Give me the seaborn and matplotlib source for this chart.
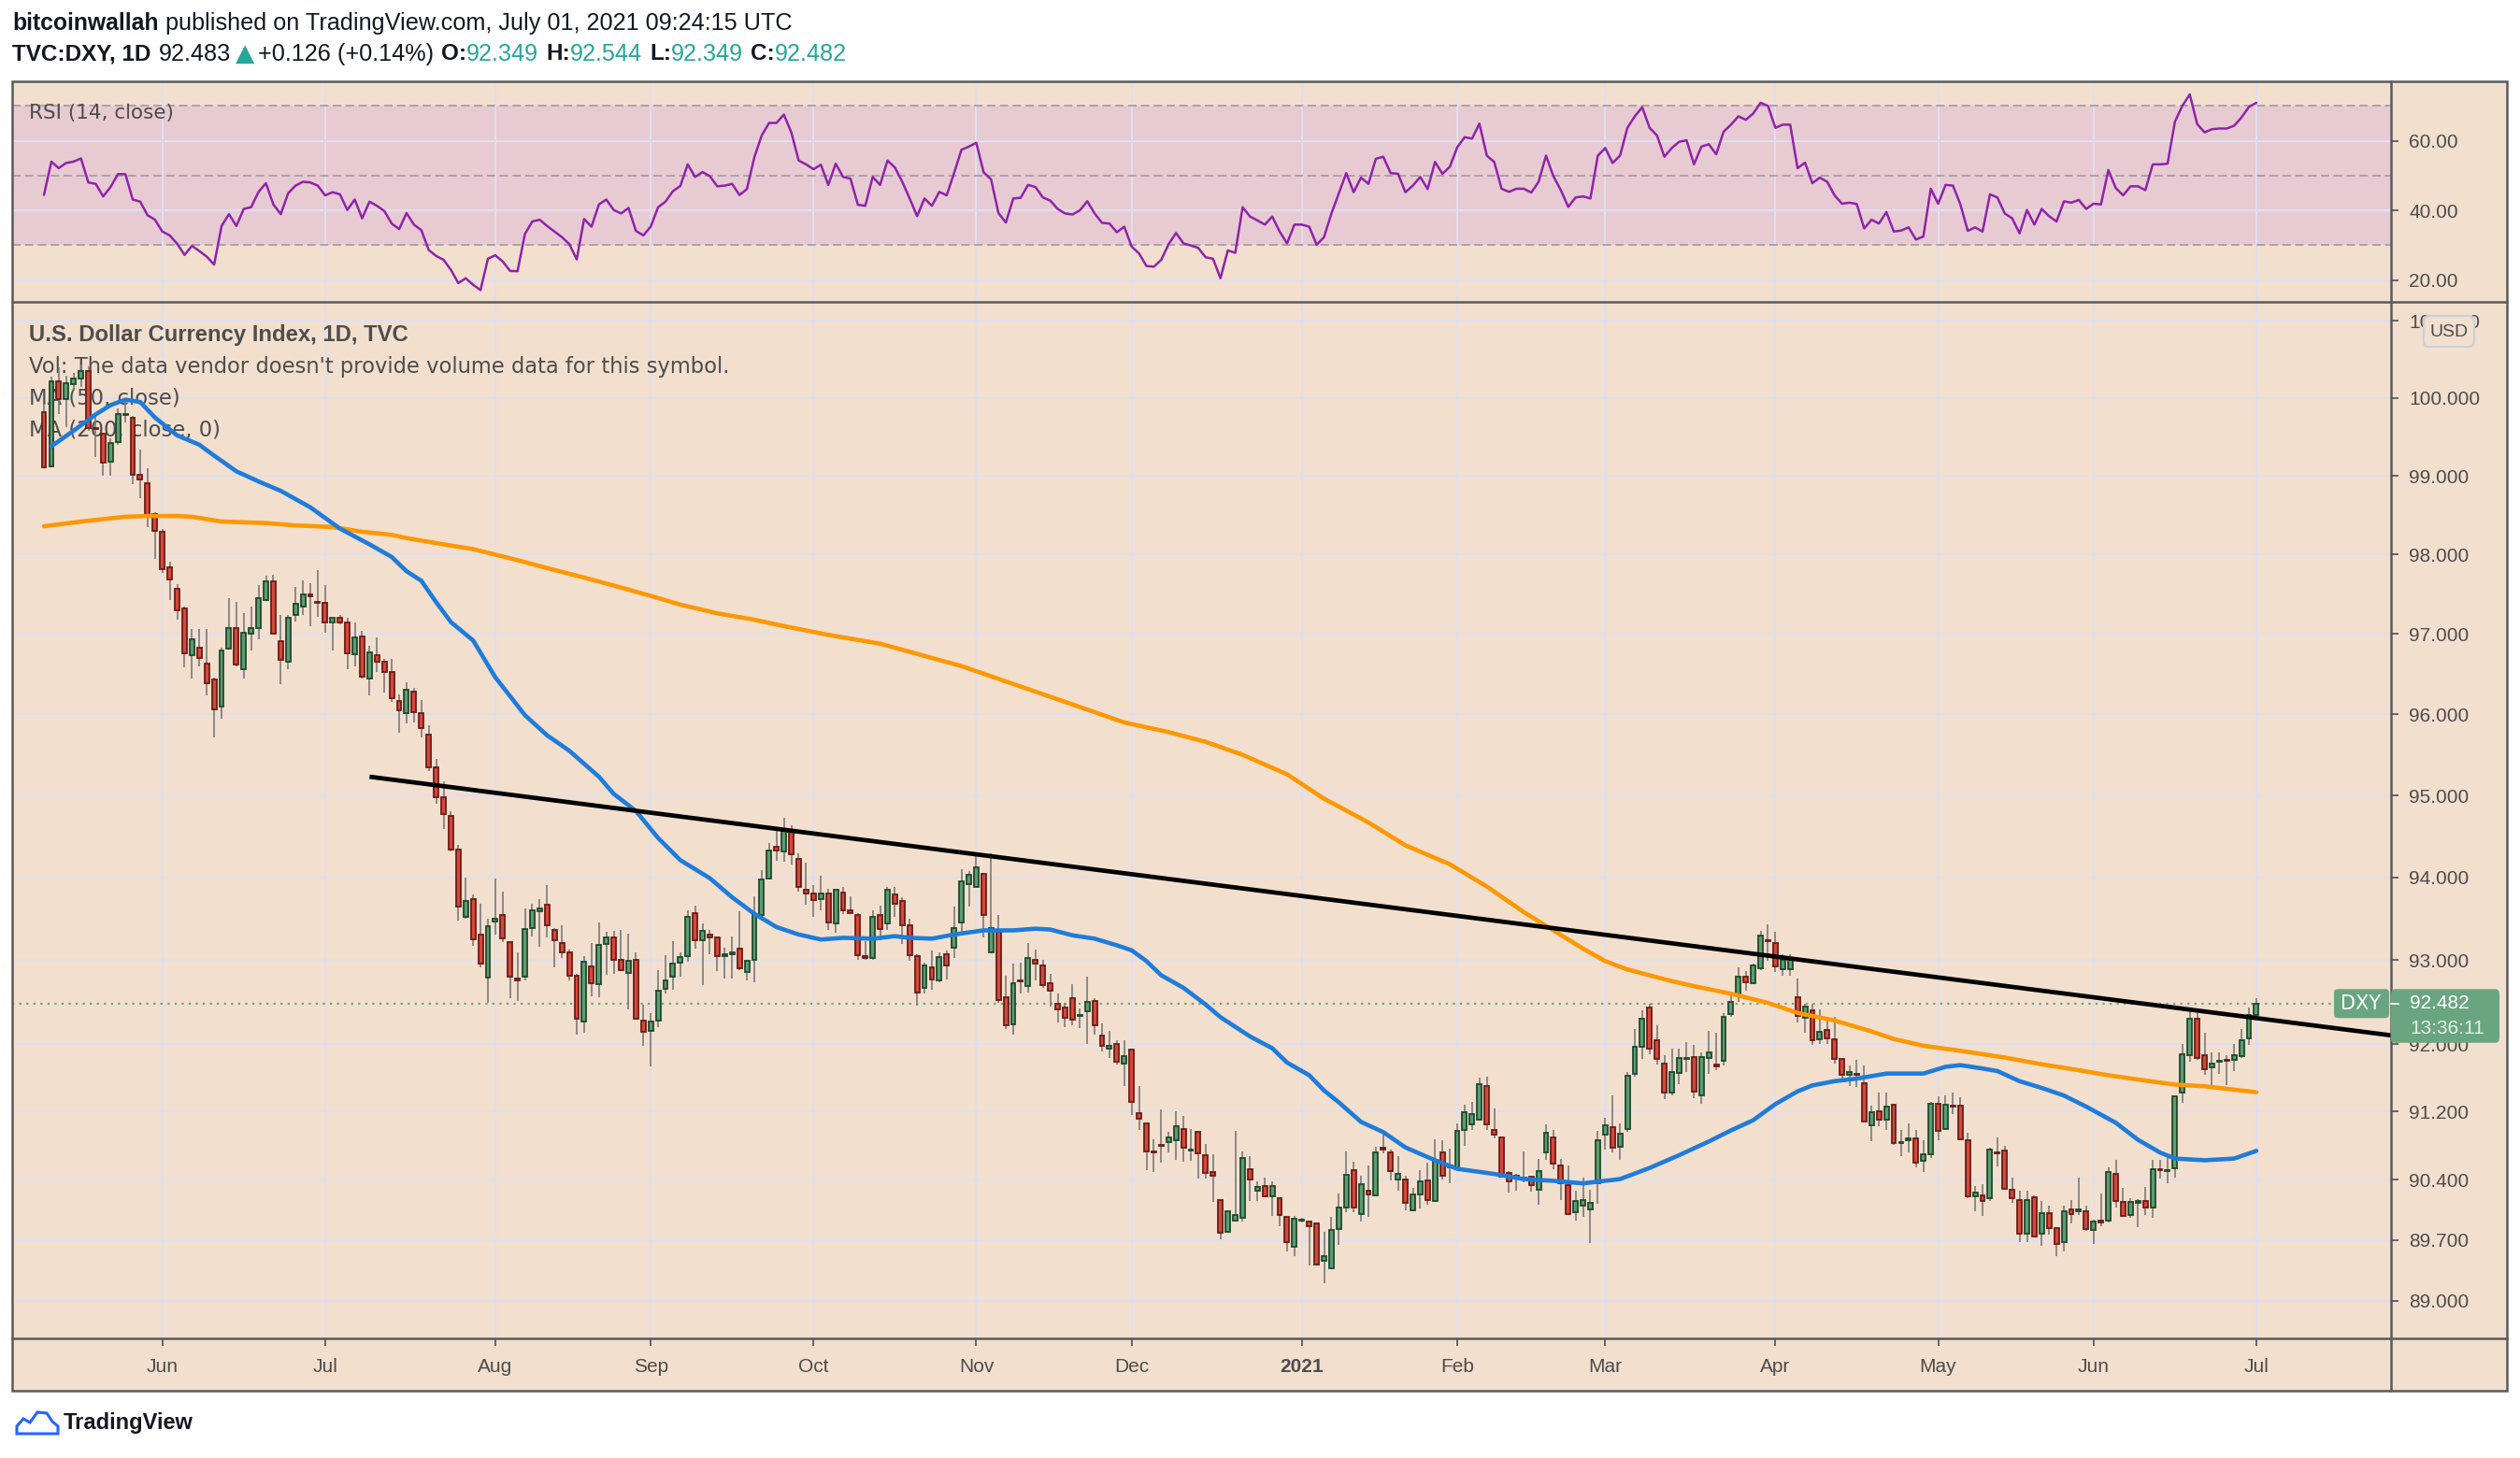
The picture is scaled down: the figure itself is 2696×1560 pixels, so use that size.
import matplotlib
matplotlib.use("Agg")
import matplotlib.pyplot as plt
import numpy as np
import pandas as pd
import seaborn as sns
from matplotlib.patches import Rectangle, FancyBboxPatch, PathPatch
from matplotlib.path import Path
from matplotlib.lines import Line2D
from matplotlib.ticker import NullLocator, NullFormatter
from matplotlib.transforms import IdentityTransform

# ---------------- data ----------------
# daily bars, TVC:DXY, 2020-05-08 .. 2021-07-01 (business days)
dates = pd.bdate_range("2020-05-08", "2021-07-01")

open_ = [
    99.82, 99.12, 100.22, 99.99, 100.18, 100.25, 100.35, 99.61, 99.54, 99.18,
    99.43, 99.78, 99.75, 99.02, 98.91, 98.52, 98.29, 97.84, 97.57, 97.32,
    96.74, 96.83, 96.63, 96.43, 96.10, 96.82, 97.08, 96.56, 97.00, 97.08,
    97.43, 97.66, 96.91, 96.66, 97.24, 97.35, 97.50, 97.40, 97.39, 97.15,
    97.21, 97.14, 96.75, 96.97, 96.45, 96.74, 96.65, 96.53, 96.17, 96.02,
    96.28, 96.01, 95.75, 95.35, 94.98, 94.75, 94.34, 93.52, 93.74, 93.31,
    92.79, 93.47, 93.55, 93.22, 92.78, 92.80, 93.39, 93.59, 93.67, 93.36,
    93.21, 93.09, 92.81, 92.27, 92.93, 92.71, 93.20, 93.27, 93.01, 92.85,
    93.01, 92.28, 92.16, 92.28, 92.66, 92.80, 92.97, 93.05, 93.57, 93.24,
    93.31, 93.28, 93.05, 93.07, 93.14, 92.86, 93.01, 93.55, 93.99, 94.37,
    94.32, 94.58, 94.23, 93.85, 93.80, 93.74, 93.81, 93.44, 93.82, 93.60,
    93.55, 93.05, 93.03, 93.55, 93.44, 93.79, 93.71, 93.42, 93.05, 92.67,
    92.92, 92.76, 93.07, 93.15, 93.46, 93.92, 93.89, 94.04, 93.09, 93.34,
    92.56, 92.23, 92.76, 92.69, 93.00, 92.94, 92.72, 92.48, 92.43, 92.55,
    92.33, 92.39, 92.51, 92.10, 91.94, 92.00, 91.77, 91.93, 91.18, 91.06,
    90.73, 90.81, 90.84, 90.86, 91.00, 90.74, 90.96, 90.69, 90.49, 90.17,
    89.80, 89.93, 89.96, 90.52, 90.28, 90.33, 90.21, 90.19, 89.97, 89.62,
    89.93, 89.92, 89.89, 89.46, 89.37, 89.83, 90.08, 90.51, 90.00, 90.27,
    90.22, 90.77, 90.72, 90.41, 90.41, 90.05, 90.23, 90.39, 90.16, 90.72,
    90.55, 90.53, 90.99, 91.05, 91.11, 91.50, 90.99, 90.90, 90.48, 90.45,
    90.41, 90.44, 90.29, 90.72, 90.90, 90.57, 90.34, 90.02, 90.10, 90.06,
    90.36, 90.93, 91.02, 90.79, 91.00, 91.65, 91.97, 92.44, 92.04, 91.77,
    91.43, 91.66, 91.82, 91.85, 91.39, 91.83, 91.75, 91.80, 92.36, 92.59,
    92.80, 92.72, 92.90, 93.24, 93.21, 92.89, 92.89, 92.56, 92.31, 92.40,
    92.06, 92.17, 92.06, 91.82, 91.63, 91.65, 91.54, 91.04, 91.20, 91.11,
    91.28, 90.83, 90.87, 90.89, 90.62, 90.70, 91.29, 91.00, 91.27, 91.27,
    90.86, 90.21, 90.22, 90.19, 90.72, 90.74, 90.29, 90.17, 89.77, 90.20,
    89.77, 90.01, 89.84, 89.68, 90.06, 90.04, 90.04, 89.82, 89.92, 89.93,
    90.47, 90.14, 89.99, 90.13, 90.15, 90.08, 90.52, 90.50, 90.54, 91.42,
    91.87, 92.30, 91.87, 91.72, 91.79, 91.81, 91.81, 91.86, 92.07, 92.349,
]
high = [
    99.93, 100.28, 100.40, 100.29, 100.33, 100.43, 100.41, 99.81, 99.56, 99.48,
    99.87, 99.99, 99.77, 99.34, 99.10, 98.54, 98.32, 97.91, 97.63, 97.34,
    97.06, 97.06, 97.06, 96.46, 96.83, 97.45, 97.40, 97.26, 97.34, 97.61,
    97.73, 97.74, 97.24, 97.24, 97.59, 97.67, 97.64, 97.81, 97.62, 97.20,
    97.24, 97.20, 97.14, 97.04, 96.85, 96.96, 96.69, 96.69, 96.25, 96.40,
    96.33, 96.18, 95.86, 95.45, 95.17, 94.81, 94.40, 94.00, 93.79, 93.68,
    93.50, 93.99, 93.83, 93.23, 93.09, 93.63, 93.68, 93.74, 93.91, 93.39,
    93.42, 93.13, 92.84, 93.05, 93.21, 93.46, 93.34, 93.35, 93.37, 93.32,
    93.09, 92.47, 92.37, 92.88, 93.06, 93.23, 93.09, 93.60, 93.66, 93.44,
    93.37, 93.29, 93.15, 93.29, 93.59, 93.01, 93.77, 94.09, 94.42, 94.59,
    94.73, 94.63, 94.29, 94.18, 93.91, 94.02, 93.86, 93.85, 93.89, 93.77,
    93.57, 93.23, 93.60, 93.66, 93.89, 93.88, 93.76, 93.50, 93.07, 92.97,
    93.12, 93.10, 93.12, 93.65, 94.10, 94.08, 94.29, 94.05, 94.29, 93.55,
    92.82, 92.96, 92.97, 93.21, 93.13, 93.01, 92.84, 92.60, 92.49, 92.71,
    92.42, 92.80, 92.55, 92.24, 92.16, 92.04, 92.04, 91.93, 91.50, 91.06,
    90.88, 91.23, 90.96, 91.20, 91.15, 91.00, 90.96, 90.82, 90.70, 90.17,
    90.04, 90.97, 90.73, 90.68, 90.38, 90.43, 90.38, 90.20, 89.97, 89.98,
    89.96, 89.93, 89.90, 89.80, 89.97, 90.24, 90.73, 90.61, 90.45, 90.57,
    90.79, 90.93, 90.75, 90.68, 90.45, 90.31, 90.51, 90.60, 90.88, 90.86,
    90.77, 91.06, 91.28, 91.31, 91.60, 91.61, 91.24, 90.91, 90.50, 90.47,
    90.73, 90.45, 90.65, 91.05, 90.98, 90.65, 90.57, 90.27, 90.43, 90.29,
    90.97, 91.13, 91.39, 91.06, 91.67, 92.18, 92.40, 92.48, 92.22, 91.87,
    91.95, 91.95, 92.02, 91.99, 91.90, 92.16, 92.13, 92.37, 92.58, 92.92,
    92.87, 92.96, 93.35, 93.43, 93.34, 93.07, 93.07, 92.78, 92.48, 92.48,
    92.41, 92.32, 92.32, 91.82, 91.75, 91.81, 91.75, 91.27, 91.42, 91.42,
    91.29, 90.99, 91.06, 90.99, 90.87, 91.32, 91.38, 91.39, 91.43, 91.37,
    90.95, 90.33, 90.35, 90.78, 90.90, 90.80, 90.43, 90.28, 90.28, 90.22,
    90.15, 90.10, 89.85, 90.10, 90.17, 90.43, 90.10, 89.94, 90.24, 90.55,
    90.64, 90.31, 90.19, 90.18, 90.32, 90.63, 90.63, 90.68, 91.39, 92.00,
    92.39, 92.37, 92.13, 91.90, 91.90, 91.87, 92.00, 92.18, 92.43, 92.544,
]
low = [
    99.10, 99.11, 99.79, 99.63, 100.10, 100.15, 99.58, 99.24, 99.00, 99.00,
    99.40, 99.69, 98.90, 98.72, 98.35, 97.95, 97.77, 97.43, 97.18, 96.58,
    96.44, 96.60, 96.23, 95.72, 95.95, 96.81, 96.60, 96.44, 96.79, 96.94,
    97.42, 97.00, 96.38, 96.56, 97.16, 97.24, 97.10, 97.22, 97.02, 96.80,
    97.12, 96.56, 96.60, 96.44, 96.23, 96.53, 96.27, 96.15, 95.77, 95.89,
    95.90, 95.72, 95.30, 94.90, 94.59, 94.32, 93.48, 93.50, 93.17, 92.92,
    92.49, 93.31, 93.22, 92.55, 92.51, 92.76, 93.29, 93.16, 93.27, 92.92,
    93.03, 92.76, 92.11, 92.13, 92.57, 92.56, 92.83, 92.84, 92.87, 92.41,
    92.29, 91.98, 91.73, 92.20, 92.60, 92.65, 92.80, 92.98, 93.14, 92.70,
    93.07, 92.87, 92.78, 92.78, 92.88, 92.76, 92.74, 93.48, 93.97, 94.20,
    94.19, 94.16, 93.83, 93.67, 93.52, 93.60, 93.37, 93.33, 93.56, 93.57,
    93.00, 93.00, 93.01, 93.24, 93.37, 93.52, 93.20, 92.99, 92.46, 92.60,
    92.65, 92.74, 92.77, 93.03, 93.31, 93.65, 93.89, 93.27, 93.09, 92.49,
    92.18, 92.11, 92.60, 92.61, 92.76, 92.67, 92.45, 92.26, 92.20, 92.22,
    92.19, 92.00, 92.11, 91.91, 91.84, 91.76, 91.50, 91.16, 90.99, 90.51,
    90.49, 90.60, 90.72, 90.63, 90.61, 90.62, 90.42, 90.42, 90.14, 89.71,
    89.80, 89.93, 89.92, 90.15, 90.15, 90.20, 89.98, 89.86, 89.57, 89.52,
    89.90, 89.41, 89.41, 89.20, 89.36, 89.65, 90.02, 90.02, 89.92, 89.97,
    90.22, 90.71, 90.39, 90.27, 90.05, 90.04, 90.07, 90.11, 90.16, 90.40,
    90.36, 90.51, 90.80, 90.99, 91.11, 90.99, 90.89, 90.43, 90.25, 90.27,
    90.37, 90.26, 90.11, 90.64, 90.53, 90.17, 89.99, 89.93, 89.97, 89.67,
    90.12, 90.76, 90.72, 90.63, 90.96, 91.61, 91.82, 91.88, 91.76, 91.35,
    91.39, 91.53, 91.67, 91.36, 91.29, 91.65, 91.69, 91.75, 92.32, 92.50,
    92.64, 92.71, 92.88, 92.99, 92.86, 92.82, 92.82, 92.26, 92.13, 91.99,
    92.00, 92.00, 91.77, 91.57, 91.50, 91.49, 91.08, 90.85, 91.03, 90.99,
    90.81, 90.68, 90.72, 90.55, 90.49, 90.66, 90.86, 90.98, 91.17, 90.88,
    90.19, 90.03, 89.98, 90.15, 90.56, 90.30, 90.13, 89.68, 89.68, 89.74,
    89.63, 89.76, 89.51, 89.57, 89.89, 89.99, 89.81, 89.66, 89.86, 89.90,
    90.08, 89.97, 89.96, 89.85, 89.99, 89.96, 90.42, 90.36, 90.43, 91.30,
    91.79, 91.81, 91.64, 91.50, 91.65, 91.51, 91.68, 91.84, 91.99, 92.349,
]
close = [
    99.11, 100.22, 99.99, 100.19, 100.25, 100.35, 99.61, 99.60, 99.17, 99.42,
    99.79, 99.79, 99.02, 98.95, 98.48, 98.30, 97.82, 97.69, 97.30, 96.76,
    96.93, 96.70, 96.39, 96.06, 96.80, 97.08, 96.62, 97.02, 97.07, 97.45,
    97.66, 97.00, 96.68, 97.20, 97.38, 97.50, 97.47, 97.39, 97.15, 97.20,
    97.15, 96.76, 96.96, 96.47, 96.77, 96.66, 96.53, 96.20, 96.05, 96.31,
    96.03, 95.83, 95.35, 94.98, 94.77, 94.34, 93.65, 93.72, 93.25, 92.96,
    93.41, 93.50, 93.26, 92.80, 92.76, 93.38, 93.60, 93.63, 93.42, 93.24,
    93.10, 92.82, 92.30, 92.98, 92.73, 93.19, 93.28, 93.01, 92.88, 92.99,
    92.30, 92.15, 92.27, 92.64, 92.76, 92.96, 93.04, 93.52, 93.24, 93.35,
    93.27, 93.05, 93.07, 93.09, 92.90, 92.99, 93.54, 93.97, 94.33, 94.33,
    94.58, 94.28, 93.88, 93.81, 93.73, 93.80, 93.45, 93.85, 93.60, 93.57,
    93.06, 93.03, 93.52, 93.38, 93.85, 93.68, 93.42, 93.06, 92.61, 92.94,
    92.77, 93.04, 92.94, 93.39, 93.95, 94.03, 94.12, 93.55, 93.39, 92.52,
    92.22, 92.72, 92.75, 93.03, 92.96, 92.70, 92.64, 92.41, 92.31, 92.29,
    92.35, 92.50, 92.22, 91.98, 91.98, 91.79, 91.86, 91.31, 91.12, 90.73,
    90.72, 90.80, 90.90, 91.03, 90.78, 90.75, 90.71, 90.48, 90.45, 89.79,
    90.04, 89.99, 90.66, 90.41, 90.32, 90.21, 90.33, 89.99, 89.68, 89.95,
    89.94, 89.86, 89.42, 89.51, 89.82, 90.08, 90.46, 90.08, 90.35, 90.23,
    90.72, 90.76, 90.50, 90.47, 90.13, 90.23, 90.38, 90.17, 90.64, 90.45,
    90.57, 90.97, 91.19, 91.17, 91.53, 91.05, 90.93, 90.44, 90.38, 90.42,
    90.42, 90.34, 90.50, 90.95, 90.59, 90.36, 90.00, 90.16, 90.17, 90.13,
    90.87, 91.04, 90.78, 90.94, 91.62, 91.97, 92.30, 91.95, 91.82, 91.42,
    91.67, 91.83, 91.84, 91.44, 91.85, 91.90, 91.74, 92.32, 92.50, 92.80,
    92.74, 92.94, 93.30, 93.23, 92.93, 93.00, 93.01, 92.33, 92.45, 92.05,
    92.15, 92.07, 91.82, 91.64, 91.67, 91.63, 91.08, 91.19, 91.11, 91.26,
    90.83, 90.84, 90.88, 90.60, 90.70, 91.29, 90.97, 91.28, 91.26, 90.88,
    90.21, 90.25, 90.16, 90.76, 90.71, 90.30, 90.19, 89.77, 90.17, 89.74,
    90.01, 89.84, 89.66, 90.03, 90.00, 90.05, 89.83, 89.92, 89.91, 90.49,
    90.15, 89.98, 90.14, 90.15, 90.08, 90.52, 90.51, 90.51, 91.38, 91.88,
    92.30, 91.83, 91.70, 91.77, 91.80, 91.80, 91.87, 92.05, 92.34, 92.482,
]
rsi = [
    44.4, 54.0, 52.1, 53.6, 54.0, 54.9, 48.0, 47.6, 44.0, 46.7,
    50.4, 50.4, 43.1, 42.5, 38.6, 37.3, 33.9, 32.8, 30.4, 27.2,
    29.8, 28.3, 26.7, 24.4, 35.5, 38.9, 35.5, 40.4, 40.9, 45.3,
    47.8, 41.7, 38.9, 44.9, 47.1, 48.2, 48.0, 47.1, 44.3, 45.2,
    44.6, 40.1, 43.1, 37.7, 42.5, 41.3, 39.8, 36.2, 34.6, 39.2,
    35.9, 34.3, 28.6, 26.9, 25.8, 22.9, 19.1, 20.5, 18.6, 17.1,
    26.1, 27.1, 25.3, 22.6, 22.5, 33.2, 36.8, 37.3, 35.5, 33.9,
    32.3, 30.3, 25.9, 37.5, 35.3, 41.7, 43.1, 40.1, 39.1, 40.7,
    34.1, 32.8, 35.3, 40.9, 42.5, 45.5, 47.0, 53.2, 49.6, 51.0,
    49.8, 46.9, 47.1, 47.6, 44.4, 46.1, 55.2, 61.5, 65.1, 65.1,
    67.5, 62.4, 54.3, 53.2, 51.8, 53.1, 47.3, 53.4, 49.6, 49.1,
    41.6, 41.3, 49.6, 47.3, 54.3, 52.3, 48.2, 43.4, 38.3, 43.4,
    41.3, 45.3, 44.3, 50.7, 57.4, 58.3, 59.4, 50.9, 48.9, 39.2,
    36.5, 43.4, 43.6, 47.3, 46.7, 43.7, 42.8, 40.4, 39.1, 38.8,
    40.0, 42.6, 39.1, 36.4, 36.2, 33.7, 35.3, 29.6, 27.6, 24.0,
    23.8, 25.8, 30.3, 33.5, 30.5, 29.9, 29.2, 26.5, 26.1, 20.5,
    28.5, 27.8, 40.9, 38.2, 37.1, 35.9, 38.2, 33.9, 30.5, 35.9,
    35.9, 35.3, 30.1, 32.3, 39.1, 44.9, 50.7, 45.2, 49.4, 47.6,
    54.8, 55.4, 50.7, 50.5, 45.2, 47.1, 49.6, 46.1, 53.9, 50.5,
    52.5, 58.1, 61.0, 60.6, 64.9, 55.7, 53.9, 46.2, 45.3, 46.2,
    46.2, 45.1, 48.2, 55.7, 49.8, 45.8, 41.0, 43.7, 44.0, 43.4,
    55.7, 57.9, 53.6, 55.7, 63.7, 67.0, 69.6, 63.7, 61.5, 55.4,
    57.9, 59.7, 60.1, 53.2, 58.3, 59.0, 56.1, 62.6, 64.6, 67.0,
    66.0, 67.8, 70.9, 70.0, 63.7, 64.6, 64.6, 52.1, 53.7, 47.8,
    49.4, 48.2, 44.3, 41.9, 42.2, 41.8, 34.8, 37.3, 36.2, 39.5,
    33.9, 34.2, 35.1, 31.6, 32.5, 46.2, 41.9, 47.3, 47.1, 41.7,
    34.1, 35.1, 33.9, 44.6, 43.7, 39.1, 37.7, 33.4, 40.1, 35.9,
    40.4, 38.3, 36.8, 42.6, 42.2, 43.0, 40.4, 41.9, 41.7, 51.6,
    46.4, 44.3, 46.9, 46.9, 45.8, 53.2, 53.2, 53.4, 65.5, 70.0,
    73.3, 64.8, 62.4, 63.3, 63.5, 63.5, 64.3, 66.7, 69.7, 70.9,
]

# moving averages, sampled: trading days counted from 2020-06-01
ma50_day = [-15, -12, -9, -7, -5, -3, -1, 2, 5, 7, 10, 13, 16, 20, 24, 28, 31, 33,
            35, 37, 39, 42, 45, 49, 52, 55, 59, 61, 64, 67, 70, 74, 77, 80, 83, 86,
            89, 92, 96, 99, 101, 104, 107, 111, 115, 118, 120, 123, 126, 129, 131,
            133, 135, 138, 141, 143, 147, 150, 152, 155, 157, 159, 162, 165, 168,
            172, 175, 180, 184, 188, 192, 195, 197, 201, 205, 209, 212, 215, 218,
            221, 223, 226, 229, 233, 238, 241, 243, 246, 248, 251, 254, 257, 260,
            264, 267, 270, 272, 276, 280, 283]
ma50 = [99.38, 99.58, 99.79, 99.91, 99.98, 99.95, 99.75, 99.52, 99.40, 99.26, 99.06,
        98.93, 98.81, 98.60, 98.33, 98.13, 97.97, 97.79, 97.67, 97.40, 97.15, 96.92,
        96.46, 95.99, 95.74, 95.55, 95.23, 95.02, 94.81, 94.48, 94.21, 93.99, 93.76,
        93.56, 93.40, 93.31, 93.25, 93.27, 93.26, 93.29, 93.27, 93.26, 93.31, 93.36,
        93.36, 93.38, 93.37, 93.30, 93.26, 93.18, 93.12, 92.99, 92.82, 92.67, 92.47,
        92.32, 92.09, 91.95, 91.78, 91.63, 91.45, 91.31, 91.08, 90.96, 90.78, 90.63,
        90.53, 90.47, 90.41, 90.39, 90.36, 90.39, 90.41, 90.54, 90.69, 90.85, 90.98,
        91.10, 91.29, 91.44, 91.51, 91.56, 91.59, 91.65, 91.65, 91.73, 91.75, 91.71,
        91.68, 91.56, 91.48, 91.39, 91.26, 91.07, 90.87, 90.72, 90.65, 90.63, 90.65,
        90.74]
ma200_day = [-16, -10, -5, -2, 2, 4, 8, 14, 18, 23, 27, 31, 33, 38, 42, 48, 52, 57,
             61, 66, 70, 75, 80, 84, 90, 97, 108, 119, 130, 136, 141, 146, 152, 157,
             163, 168, 174, 179, 184, 188, 192, 195, 198, 201, 204, 207, 212, 217,
             221, 226, 231, 234, 238, 243, 246, 249, 254, 259, 263, 267, 272, 276,
             283]
ma200 = [98.36, 98.43, 98.48, 98.49, 98.49, 98.48, 98.42, 98.40, 98.37, 98.35, 98.29,
         98.25, 98.21, 98.13, 98.07, 97.93, 97.83, 97.71, 97.61, 97.48, 97.37, 97.26,
         97.18, 97.10, 96.99, 96.88, 96.60, 96.25, 95.90, 95.78, 95.66, 95.50, 95.26,
         94.96, 94.67, 94.39, 94.16, 93.89, 93.58, 93.36, 93.14, 92.99, 92.89, 92.82,
         92.75, 92.69, 92.60, 92.49, 92.37, 92.28, 92.15, 92.06, 91.98, 91.92, 91.88,
         91.84, 91.76, 91.69, 91.63, 91.58, 91.52, 91.50, 91.43]
# hand-drawn resistance line: anchor points (trading day, price)
trend_day = [28, 301.5]
trend_val = [95.23, 92.10]

price_ticks = [89.0, 89.7, 90.4, 91.2, 92.0, 93.0, 94.0, 95.0, 96.0, 97.0, 98.0,
               99.0, 100.0, 101.0]
rsi_ticks = [20, 40, 60]
rsi_levels = [30, 50, 70]

# ---------------- style ----------------
BG = "#F2DFCE"
BAND = "#E8CAD3"
GRID = (0.88, 0.88, 0.94, 0.75)
FRAME = "#5a5a5a"
TXT = "#4d4d4d"
BLACK = "#131722"
TEAL = "#26A69A"
UP, UP_E = "#5E9B72", "#1D4A2C"
DN, DN_E = "#D4483B", "#6B1C16"
WICK = "#7a7a7a"
BLUE = "#1F7CDA"
ORANGE = "#FF9800"
PURPLE = "#8E24AA"
DASH = "#A69CAB"
TAG = "#6AA582"
SANS = ["Liberation Sans", "DejaVu Sans"]
WIDE = ["DejaVu Sans"]

sns.set_style("white")
plt.rcParams["font.family"] = SANS

W, H = 2696, 1560
fig = plt.figure(figsize=(W / 100, H / 100), dpi=100)
fig.patch.set_facecolor("white")


def fx(px):
    return px / W


def fy(py):
    return 1 - py / H


L, R, T = 13, 2682, 87        # outer frame
PR = 2558                     # price axis line
RSI_B, MAIN_B, BOT = 323, 1432, 1488

fig.add_artist(Rectangle((fx(L), fy(BOT)), fx(R) - fx(L), fy(T) - fy(BOT),
                         transform=fig.transFigure, fc=BG, ec="none", zorder=-5))

ax_r = fig.add_axes([fx(L), fy(RSI_B), fx(PR) - fx(L), fy(T) - fy(RSI_B)])
ax = fig.add_axes([fx(L), fy(MAIN_B), fx(PR) - fx(L), fy(RSI_B) - fy(MAIN_B)])

o = np.array(open_)
hi = np.array(high)
lo = np.array(low)
c = np.array(close)
x = np.arange(len(c))
jun0 = dates.get_loc(pd.Timestamp("2020-06-01"))

month_idx = [i for i in range(1, len(dates)) if dates[i].month != dates[i - 1].month]
month_lab = [str(d.year) if d.month == 1 else d.strftime("%b") for d in dates[month_idx]]

for a in (ax, ax_r):
    a.set_facecolor(BG)
    for s in a.spines.values():
        s.set_visible(False)
    a.set_axisbelow(True)
    a.set_xlim(-4.3, 317.2)
    a.set_xticks(month_idx)
    a.grid(True, color=GRID, lw=1.4)
    a.tick_params(axis="y", left=False, right=True, labelleft=False, labelright=True,
                  length=6, width=1.3, color=FRAME, pad=8, labelsize=15, labelcolor=TXT)

# ---- RSI pane ----
ax_r.set_ylim(13.7, 77.06)
ax_r.set_yticks(rsi_ticks)
ax_r.set_yticklabels([f"{t:.2f}" for t in rsi_ticks])
ax_r.tick_params(axis="x", bottom=False, labelbottom=False)
ax_r.axhspan(rsi_levels[0], rsi_levels[-1], color=BAND, lw=0, zorder=0.2)
for lv in rsi_levels:
    ax_r.axhline(lv, color=DASH, lw=1.3, ls=(0, (5, 2.6)), zorder=0.6)
sns.lineplot(x=x, y=rsi, ax=ax_r, color=PURPLE, linewidth=1.8, zorder=3)
ax_r.set_xlabel("")
ax_r.set_ylabel("")
ax_r.text(fx(31), fy(121), "RSI (14, close)", transform=fig.transFigure, fontsize=15.5,
          color=TXT, va="center", ha="left", zorder=1, family=WIDE)

# ---- price pane ----
ax.set_yscale("log")
ax.set_ylim(88.57, 101.25)
ax.set_yticks(price_ticks)
ax.set_yticklabels([f"{t:.3f}" for t in price_ticks])
ax.yaxis.set_minor_locator(NullLocator())
ax.yaxis.set_minor_formatter(NullFormatter())
ax.set_xticklabels(month_lab)
ax.tick_params(axis="x", bottom=True, length=6, width=1.3, color=FRAME, pad=9,
               labelsize=15, labelcolor=TXT)
for t in ax.get_xticklabels():
    if t.get_text().isdigit():
        t.set_fontweight("bold")

up = c >= o
body_lo = np.minimum(o, c)
body_h = np.maximum(np.abs(c - o), 0.012)
ax.vlines(x, lo, hi, color=WICK, lw=1.2, zorder=2)
ax.bar(x[up], body_h[up], bottom=body_lo[up], width=0.62, color=UP, edgecolor=UP_E,
       linewidth=1.3, zorder=3)
ax.bar(x[~up], body_h[~up], bottom=body_lo[~up], width=0.62, color=DN, edgecolor=DN_E,
       linewidth=1.3, zorder=3)

sns.lineplot(x=np.array(ma200_day) + jun0, y=ma200, ax=ax, color=ORANGE, linewidth=3.3,
             zorder=4, sort=False)
sns.lineplot(x=np.array(ma50_day) + jun0, y=ma50, ax=ax, color=BLUE, linewidth=3.3,
             zorder=4, sort=False)
ax.plot(np.array(trend_day) + jun0, trend_val, color="black", lw=3.4, zorder=5,
        solid_capstyle="butt")
ax.set_xlabel("")
ax.set_ylabel("")

ax.axhline(c[-1], xmin=0, xmax=(2497 - L) / (PR - L), color=TAG, lw=1.6,
           ls=(0, (1, 2.4)), zorder=1.5)

ax.text(fx(31), fy(358), "U.S. Dollar Currency Index, 1D, TVC", transform=fig.transFigure,
        fontsize=17.2, fontweight="bold", color=TXT, va="center", ha="left", zorder=1)
for s, yy in [("Vol: The data vendor doesn't provide volume data for this symbol.", 392),
              ("MA (50, close)", 427),
              ("MA (200, close, 0)", 460)]:
    ax.text(fx(31), fy(yy), s, transform=fig.transFigure, fontsize=16.3, color=TXT,
            va="center", ha="left", zorder=1, family=WIDE)

# ---- frame ----
fig.add_artist(Rectangle((fx(L), fy(BOT)), fx(R) - fx(L), fy(T) - fy(BOT),
                         transform=fig.transFigure, fill=False, ec=FRAME, lw=1.8, zorder=7))
for yy in (RSI_B, MAIN_B):
    fig.add_artist(Line2D([fx(L), fx(R)], [fy(yy), fy(yy)], transform=fig.transFigure,
                          color=FRAME, lw=1.8, zorder=7))
fig.add_artist(Line2D([fx(PR), fx(PR)], [fy(T), fy(BOT)], transform=fig.transFigure,
                      color=FRAME, lw=1.8, zorder=7))

# ---- price tags ----
ident = IdentityTransform()


def box(x0, y0, x1, y1, fc, ec="none", lw=0.0, r=4, z=8):
    fig.add_artist(FancyBboxPatch((x0, H - y1), x1 - x0, y1 - y0,
                                  boxstyle=f"round,pad=0,rounding_size={r}",
                                  fc=fc, ec=ec, lw=lw, transform=ident, zorder=z))


yc = H - ax.transData.transform((0, c[-1]))[1]
box(2497, yc - 15.5, 2556, yc + 15.5, TAG)
fig.text(fx(2526), fy(yc), "DXY", color="white", fontsize=15, ha="center", va="center",
         zorder=9, family=WIDE)
box(2558, yc - 15.5, 2674, yc + 42, TAG, r=5)
fig.add_artist(Line2D([fx(2558), fx(2566)], [fy(yc), fy(yc)], transform=fig.transFigure,
                      color="white", lw=1.3, zorder=9))
fig.text(fx(2578), fy(yc), f"{c[-1]:.3f}", color="white", fontsize=15, ha="left",
         va="center", zorder=9)
fig.text(fx(2578), fy(yc + 27), "13:36:11", color="#E3F0E7", fontsize=15, ha="left",
         va="center", zorder=9)

box(2593, 338, 2647, 371, BG, ec="#C9CFDA", lw=1.5, r=6)
fig.text(fx(2620), fy(355), "USD", color=TXT, fontsize=14, ha="center", va="center",
         zorder=9)

# ---- header ----
renderer = fig.canvas.get_renderer()


def run_text(pieces, x0, y0):
    xx = x0
    for s, col, wt, size, fam, gap in pieces:
        t = fig.text(fx(xx), fy(y0), s, color=col, fontsize=size, fontweight=wt,
                     ha="left", va="center", family=fam)
        xx = t.get_window_extent(renderer=renderer).x1 + gap


run_text([("bitcoinwallah", BLACK, "bold", 17.8, SANS, 7),
          ("published on TradingView.com, July 01, 2021 09:24:15 UTC", BLACK, "normal",
           18.2, SANS, 0)],
         13, 25)
run_text([("TVC:DXY, 1D", BLACK, "bold", 17.5, SANS, 9),
          (f"{c[-1] + 0.001:.3f}", BLACK, "normal", 18.2, SANS, 4),
          ("\u25B2", TEAL, "normal", 19, WIDE, 4),
          ("+0.126 (+0.14%)", BLACK, "normal", 18.2, SANS, 8),
          ("O:", BLACK, "bold", 17.5, SANS, 0), (f"{o[-1]:.3f}", TEAL, "normal", 18.2, SANS, 8),
          ("H:", BLACK, "bold", 17.5, SANS, 0), (f"{hi[-1]:.3f}", TEAL, "normal", 18.2, SANS, 8),
          ("L:", BLACK, "bold", 17.5, SANS, 0), (f"{lo[-1]:.3f}", TEAL, "normal", 18.2, SANS, 8),
          ("C:", BLACK, "bold", 17.5, SANS, 0), (f"{c[-1]:.3f}", TEAL, "normal", 18.2, SANS, 0)],
         13, 58)

# ---- TradingView mark ----
pts = [(18, 1534), (18, 1526), (25, 1518), (32, 1522), (40, 1511), (50, 1512),
       (56, 1521), (62, 1526), (62, 1534), (18, 1534)]
verts = [(px, H - py) for px, py in pts]
fig.add_artist(PathPatch(Path(verts, closed=True), transform=ident, fc="none",
                         ec="#2962FF", lw=2.2, zorder=9))
fig.text(fx(68), fy(1523), "TradingView", color=BLACK, fontsize=17, fontweight="bold",
         ha="left", va="center")

fig.savefig("out.png", dpi=100, facecolor="white")
